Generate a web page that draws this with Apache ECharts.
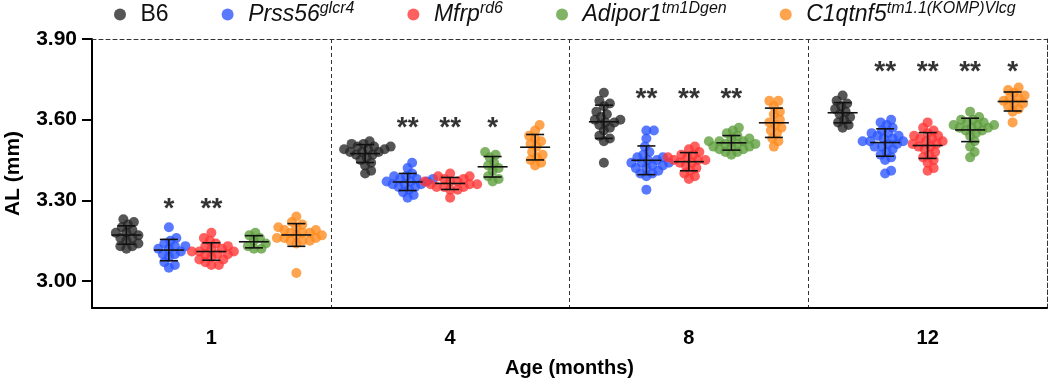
<!DOCTYPE html>
<html>
<head>
<meta charset="utf-8">
<script src="https://cdn.jsdelivr.net/npm/echarts@6/dist/echarts.min.js"></script>
<style>
  html, body { margin: 0; padding: 0; background: #fff; }
  #chart { width: 1050px; height: 382px; }
</style>
</head>
<body>
<div id="chart"></div>
<script>
// age groups on the x axis
const ages = ["1", "4", "8", "12"];
const strains = ["B6", "Prss56", "Mfrp", "Adipor1", "C1qtnf5"];

// axial length (mm) per animal, one sub-array per age group
const b6 = [
    [3.23, 3.22, 3.21, 3.20, 3.19, 3.18, 3.18, 3.17, 3.16, 3.16, 3.15, 3.14, 3.13, 3.13, 3.12],
    [3.52, 3.51, 3.51, 3.50, 3.50, 3.50, 3.49, 3.49, 3.49, 3.48, 3.48, 3.48, 3.47, 3.47, 3.46, 3.45, 3.44, 3.43, 3.41, 3.40],
    [3.70, 3.67, 3.66, 3.65, 3.63, 3.62, 3.61, 3.60, 3.60, 3.59, 3.59, 3.58, 3.57, 3.56, 3.54, 3.53, 3.52, 3.44],
    [3.69, 3.67, 3.66, 3.65, 3.64, 3.63, 3.62, 3.61, 3.60, 3.59, 3.58, 3.57],
];
const prss56 = [
    [3.20, 3.16, 3.15, 3.14, 3.13, 3.13, 3.12, 3.12, 3.11, 3.10, 3.10, 3.09, 3.07, 3.06, 3.05],
    [3.44, 3.42, 3.40, 3.39, 3.39, 3.38, 3.38, 3.38, 3.37, 3.37, 3.37, 3.36, 3.36, 3.36, 3.35, 3.35, 3.34, 3.33, 3.32, 3.31],
    [3.56, 3.56, 3.53, 3.50, 3.48, 3.47, 3.46, 3.46, 3.45, 3.45, 3.44, 3.44, 3.44, 3.43, 3.43, 3.42, 3.42, 3.41, 3.40, 3.40, 3.39, 3.34],
    [3.60, 3.59, 3.58, 3.57, 3.56, 3.55, 3.55, 3.54, 3.54, 3.53, 3.53, 3.52, 3.52, 3.52, 3.51, 3.51, 3.50, 3.50, 3.49, 3.48, 3.47, 3.46, 3.45, 3.41, 3.40],
];
const mfrp = [
    [3.18, 3.16, 3.15, 3.14, 3.13, 3.13, 3.12, 3.12, 3.11, 3.11, 3.11, 3.10, 3.10, 3.10, 3.09, 3.08, 3.08, 3.07, 3.06, 3.06],
    [3.40, 3.39, 3.39, 3.38, 3.38, 3.37, 3.37, 3.37, 3.36, 3.36, 3.36, 3.35, 3.35, 3.35, 3.34, 3.34, 3.31],
    [3.50, 3.49, 3.48, 3.47, 3.47, 3.46, 3.46, 3.45, 3.45, 3.45, 3.44, 3.44, 3.43, 3.42, 3.41, 3.40, 3.39, 3.38],
    [3.59, 3.57, 3.56, 3.55, 3.54, 3.54, 3.53, 3.53, 3.52, 3.52, 3.51, 3.51, 3.50, 3.50, 3.49, 3.48, 3.47, 3.46, 3.45, 3.44, 3.42, 3.41],
];
const adipor1 = [
    [3.18, 3.17, 3.16, 3.15, 3.14, 3.13, 3.12, 3.12],
    [3.48, 3.47, 3.46, 3.44, 3.43, 3.42, 3.41, 3.39, 3.38, 3.37],
    [3.57, 3.56, 3.55, 3.54, 3.53, 3.53, 3.52, 3.52, 3.52, 3.51, 3.51, 3.51, 3.50, 3.50, 3.50, 3.49, 3.49, 3.48, 3.48, 3.47],
    [3.63, 3.61, 3.60, 3.60, 3.59, 3.59, 3.58, 3.58, 3.58, 3.57, 3.57, 3.57, 3.56, 3.56, 3.55, 3.54, 3.52, 3.50, 3.48, 3.46],
];
const c1qtnf5 = [
    [3.24, 3.22, 3.21, 3.20, 3.20, 3.19, 3.19, 3.18, 3.18, 3.18, 3.17, 3.17, 3.16, 3.16, 3.16, 3.15, 3.15, 3.14, 3.15, 3.03],
    [3.58, 3.56, 3.54, 3.53, 3.52, 3.51, 3.50, 3.48, 3.47, 3.46, 3.45, 3.44, 3.43],
    [3.67, 3.67, 3.65, 3.63, 3.62, 3.60, 3.59, 3.58, 3.57, 3.56, 3.55, 3.53, 3.52, 3.50],
    [3.72, 3.71, 3.70, 3.69, 3.68, 3.68, 3.67, 3.66, 3.66, 3.65, 3.64, 3.63, 3.59],
];
const allData = [b6, prss56, mfrp, adipor1, c1qtnf5];

// significance marks vs B6, per age group
const stars = [
    ["", "*", "**", "", ""],
    ["", "**", "**", "*", ""],
    ["", "**", "**", "**", ""],
    ["", "**", "**", "**", "*"],
];
const starLevel = [3.29, 3.59, 3.70, 3.80];

const colors = ["#262626", "#2a55ff", "#ff3434", "#5e9e3c", "#ff8a1c"];
const legendText = {
    B6: "{n|B6}",
    Prss56: "{i|Prss56}{s|glcr4}",
    Mfrp: "{i|Mfrp}{s|rd6}",
    Adipor1: "{i|Adipor1}{s|tm1Dgen}",
    C1qtnf5: "{i|C1qtnf5}{s|tm1.1(KOMP)Vlcg}",
};

const FONT = "'Liberation Sans', Arial, sans-serif";
const grid = { left: 92, right: 3, top: 39, bottom: 74, outerBoundsMode: "none" };
const yMin = 2.9, yMax = 3.9;
const W = 1050, H = 382;
const pxPerUnit = (H - grid.top - grid.bottom) / (yMax - yMin);
const bandPx = (W - grid.left - grid.right) / ages.length;
const strainStep = 0.178; // spacing between strains inside a group (in group units)

// simple beeswarm: push dots sideways until they don't overlap too much
function swarm(values, minDist, step) {
    const order = values.map((_, i) => i).sort((a, b) => values[a] - values[b]);
    const placed = [];
    const xs = new Array(values.length);
    order.forEach((i) => {
        const y = values[i] * pxPerUnit;
        for (let k = 0; k < 200; k++) {
            const cand = k === 0 ? 0 : (k % 2 ? 1 : -1) * Math.ceil(k / 2) * step;
            if (placed.every((p) => Math.hypot(p.x - cand, p.y - y) >= minDist)) {
                xs[i] = cand;
                placed.push({ x: cand, y: y });
                break;
            }
        }
    });
    return xs;
}

function mean(a) {
    return a.reduce((s, v) => s + v, 0) / a.length;
}
function sd(a) {
    const m = mean(a);
    return Math.sqrt(a.reduce((s, v) => s + (v - m) * (v - m), 0) / (a.length - 1));
}

const series = [];
const errData = [];
allData.forEach((groups, k) => {
    const pts = [];
    groups.forEach((vals, g) => {
        const cx = g + 0.5 + (k - 2) * strainStep;
        const offs = swarm(vals, 6.5, 1.5);
        vals.forEach((v, i) => pts.push([cx + offs[i] / bandPx, v]));
        errData.push([cx, mean(vals), sd(vals)]);
    });
    series.push({
        name: strains[k],
        type: "scatter",
        xAxisIndex: 1,
        symbolSize: 10,
        itemStyle: { color: colors[k], opacity: 0.78 },
        data: pts,
        z: 2,
    });
});

series.push({
    type: "custom",
    xAxisIndex: 1,
    silent: true,
    z: 5,
    encode: { x: 0, y: 1 },
    renderItem: (params, api) => {
        const x = api.value(0), m = api.value(1), s = api.value(2);
        const c = api.coord([x, m]);
        const hi = api.coord([x, m + s]);
        const lo = api.coord([x, m - s]);
        const style = { stroke: "#111", lineWidth: 1.6 };
        return {
            type: "group",
            children: [
                { type: "line", shape: { x1: c[0], y1: hi[1], x2: c[0], y2: lo[1] }, style },
                { type: "line", shape: { x1: c[0] - 15, y1: c[1], x2: c[0] + 15, y2: c[1] }, style },
                { type: "line", shape: { x1: c[0] - 9, y1: hi[1], x2: c[0] + 9, y2: hi[1] }, style },
                { type: "line", shape: { x1: c[0] - 9, y1: lo[1], x2: c[0] + 9, y2: lo[1] }, style },
            ],
        };
    },
    data: errData,
});

const starData = [];
stars.forEach((row, g) => {
    row.forEach((s, k) => {
        if (s) starData.push({ name: s, value: [g + 0.5 + (k - 2) * strainStep, starLevel[g]] });
    });
});
series.push({
    type: "scatter",
    xAxisIndex: 1,
    symbolSize: 0,
    silent: true,
    z: 6,
    label: {
        show: true,
        position: "inside",
        formatter: "{b}",
        color: "#000",
        fontFamily: FONT,
        fontWeight: "bold",
        fontSize: 28,
        offset: [0, 6],
    },
    data: starData,
});

const chart = echarts.init(document.getElementById("chart"), null, { renderer: "canvas" });
chart.setOption({
    animation: false,
    backgroundColor: "#fff",
    grid: grid,
    legend: {
        data: strains,
        left: 109,
        top: -4,
        icon: "circle",
        itemWidth: 31,
        itemHeight: 12,
        itemGap: 53,
        formatter: (name) => legendText[name],
        textStyle: {
            fontFamily: FONT,
            color: "#111",
            rich: {
                n: { fontSize: 23, fontFamily: FONT, lineHeight: 27 },
                i: { fontSize: 23, fontFamily: FONT, fontStyle: "italic", lineHeight: 27 },
                s: { fontSize: 16, fontFamily: FONT, fontStyle: "italic", verticalAlign: "top", lineHeight: 16 },
            },
        },
    },
    xAxis: [
        {
            type: "category",
            data: ages,
            position: "bottom",
            boundaryGap: true,
            axisLine: { lineStyle: { color: "#000", width: 2 } },
            axisTick: { alignWithLabel: true, length: 10, lineStyle: { color: "#000", width: 2 } },
            axisLabel: { color: "#000", fontFamily: FONT, fontWeight: "bold", fontSize: 20, margin: 20 },
            splitLine: { show: true, interval: 0, lineStyle: { color: "#333", type: [4, 3], width: 1 } },
            name: "Age (months)",
            nameLocation: "middle",
            nameGap: 50,
            nameTextStyle: { color: "#000", fontFamily: FONT, fontWeight: "bold", fontSize: 20 },
        },
        {
            type: "value",
            min: 0,
            max: 4,
            position: "top",
            axisLine: { show: true, lineStyle: { color: "#333", type: [4, 3], width: 1 } },
            axisTick: { show: false },
            axisLabel: { show: false },
            splitLine: { show: false },
        },
    ],
    yAxis: [
        {
            type: "value",
            min: yMin,
            max: yMax,
            name: "AL (mm)",
            nameLocation: "middle",
            nameGap: 68,
            nameTextStyle: { color: "#000", fontFamily: FONT, fontWeight: "bold", fontSize: 21 },
            axisLine: { show: true, lineStyle: { color: "#000", width: 2 } },
            axisTick: { show: true, length: 10, lineStyle: { color: "#000", width: 2 }, customValues: [3.0, 3.3, 3.6, 3.9] },
            axisLabel: {
                color: "#000",
                fontFamily: FONT,
                fontWeight: "bold",
                fontSize: 21,
                margin: 15,
                customValues: [3.0, 3.3, 3.6, 3.9],
                formatter: (v) => v.toFixed(2),
            },
            splitLine: { show: false },
        },
        {
            type: "value",
            min: yMin,
            max: yMax,
            position: "right",
            axisLine: { show: true, lineStyle: { color: "#333", type: [4, 3], width: 1 } },
            axisTick: { show: false },
            axisLabel: { show: false },
            splitLine: { show: false },
        },
    ],
    series: series,
});
</script>
</body>
</html>
